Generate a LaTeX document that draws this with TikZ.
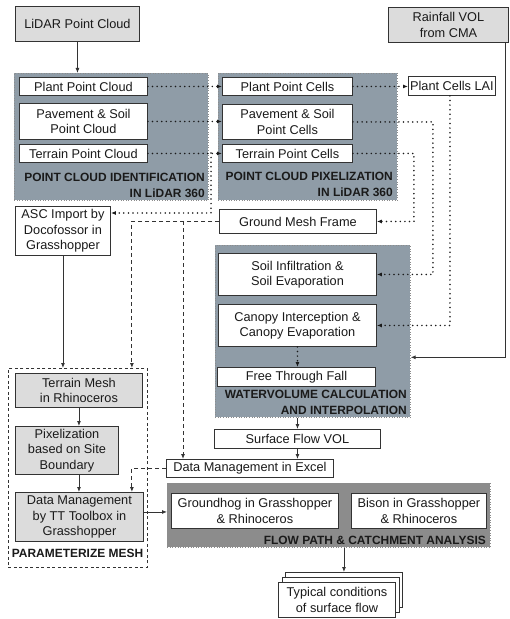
\documentclass[tikz,border=0pt]{standalone}
\usepackage{fontspec}
\setmainfont{Liberation Sans}
\usetikzlibrary{arrows.meta,calc}
\definecolor{slate}{HTML}{8F9CA7}
\definecolor{fpgray}{HTML}{8C8C8C}
\definecolor{lgray}{HTML}{DCDCDC}
\definecolor{edge}{HTML}{333333}
\definecolor{txt}{HTML}{1A1A1A}
\begin{document}
\begin{tikzpicture}[x=1bp,y=-1bp,
  font=\fontsize{12.8}{15.5}\selectfont,
  box/.style={draw=edge, line width=0.9bp, fill=white, inner sep=1bp, align=center, text=txt, anchor=north west},
  gbox/.style={box, fill=lgray},
  grp/.style={draw=black!45, dotted, line width=0.6bp, fill=slate, anchor=north west, inner sep=0},
  lbl/.style={font=\fontsize{12}{15}\selectfont\bfseries, text=txt, inner sep=0},
  tip/.style={-{Latex[length=5bp,width=4bp]}},
  arr/.style={draw=edge, line width=0.9bp, tip},
  dotl/.style={draw=txt, line width=1.7bp, line cap=round, dash pattern=on 0bp off 4.6bp, tip},
  dashl/.style={draw=edge, line width=0.9bp, dash pattern=on 4bp off 3bp, tip}
]
\path[use as bounding box, fill=white] (0,0) rectangle (510,619);

% groups
\node[grp, minimum width=194bp, minimum height=127bp] (g1) at (14,73) {};
\node[grp, minimum width=179bp, minimum height=127bp] (g2) at (218,73) {};
\node[grp, minimum width=195bp, minimum height=172bp] (g3) at (215,245) {};
\node[draw=edge, line width=0.9bp, dash pattern=on 3bp off 2.5bp, fill=white, anchor=north west, inner sep=0, minimum width=139bp, minimum height=199bp] (g4) at (8,368) {};
\node[grp, fill=fpgray, minimum width=323bp, minimum height=64bp] (g5) at (167,483) {};

% boxes
\node[gbox, minimum width=124bp, minimum height=35bp] (lidar) at (15,6) {LiDAR Point Cloud};
\node[gbox, minimum width=120bp, minimum height=35bp] (rain) at (388,7) {Rainfall VOL\\from CMA};

\node[box, minimum width=128bp, minimum height=18bp] (ppc) at (19,77) {Plant Point Cloud};
\node[box, minimum width=128bp, minimum height=36bp] (psc) at (19,103) {Pavement \& Soil\\Point Cloud};
\node[box, minimum width=128bp, minimum height=18bp] (tpc) at (19,144) {Terrain Point Cloud};

\node[box, minimum width=130bp, minimum height=18bp] (ppcell) at (222,77) {Plant Point Cells};
\node[box, minimum width=130bp, minimum height=35bp] (pscell) at (222,104) {Pavement \& Soil\\Point Cells};
\node[box, minimum width=130bp, minimum height=18bp] (tpcell) at (222,144) {Terrain Point Cells};

\node[box, inner sep=0.5bp, minimum width=87bp, minimum height=19bp] (lai) at (408,76) {Plant Cells LAI};

\node[box, minimum width=95bp, minimum height=49bp] (asc) at (15,206) {ASC Import by\\Docofossor in\\Grasshopper};
\node[box, minimum width=157bp, minimum height=24bp] (gmf) at (219,209) {Ground Mesh Frame};

\node[box, minimum width=158bp, minimum height=42bp] (soil) at (218,253) {Soil Infiltration \&\\Soil Evaporation};
\node[box, minimum width=158bp, minimum height=42bp] (canopy) at (218,304) {Canopy Interception \&\\Canopy Evaporation};
\node[box, minimum width=158bp, minimum height=19bp] (ftf) at (217,367) {Free Through Fall};

\node[box, minimum width=166bp, minimum height=19bp] (sfv) at (214,429) {Surface Flow VOL};
\node[box, minimum width=167bp, minimum height=18bp] (dme) at (166,459) {Data Management in Excel};

\node[gbox, minimum width=127bp, minimum height=34bp] (tm) at (15,373) {Terrain Mesh\\in Rhinoceros};
\node[gbox, minimum width=103bp, minimum height=48bp] (pix) at (15,426) {Pixelization\\based on Site\\Boundary};
\node[gbox, minimum width=128bp, minimum height=49bp] (dmtt) at (15,492) {Data Management\\by TT Toolbox in\\Grasshopper};

\node[box, minimum width=167bp, minimum height=35bp] (gh) at (171,493) {Groundhog in Grasshopper\\\& Rhinoceros};
\node[box, minimum width=135bp, minimum height=35bp] (bison) at (351,493) {Bison in Grasshopper\\\& Rhinoceros};

\node[box, minimum width=117bp, minimum height=35bp] (typ3) at (285,572) {};
\node[box, minimum width=117bp, minimum height=35bp] (typ2) at (281.5,577) {};
\node[box, minimum width=117bp, minimum height=35bp] (typ) at (278,582) {Typical conditions\\of surface flow};

% group labels
\node[lbl, anchor=base east] (g1la) at (205,181.5) {POINT CLOUD IDENTIFICATION};
\node[lbl, anchor=base east] (g1lb) at (205,197) {IN LiDAR 360};
\node[lbl, anchor=base east] (g2la) at (393,181) {POINT CLOUD PIXELIZATION};
\node[lbl, anchor=base east] (g2lb) at (393,196.5) {IN LiDAR 360};
\node[lbl, anchor=base east] (g3la) at (407,398.5) {WATERVOLUME CALCULATION};
\node[lbl, anchor=base east] (g3lb) at (407,414.5) {AND INTERPOLATION};
\node[lbl, anchor=base] (g4l) at (77.5,557.5) {PARAMETERIZE MESH};
\node[lbl, anchor=base east] (g5l) at (486,544.5) {FLOW PATH \& CATCHMENT ANALYSIS};

% helper coordinates
\coordinate (br1) at (211,153);
\coordinate (ascin) at ([yshift=-7bp]asc.north east);
\coordinate (rainin) at ([yshift=-26bp]g3.east);
\coordinate (g4in) at ([xshift=-16bp]g4.north east);
\coordinate (dmein) at ([xshift=17bp]dme.north west);
\coordinate (ttin) at ([xshift=-12bp]dmtt.north east);
\coordinate (a1) at ([yshift=5bp]dmtt.east);

% connectors
\draw[arr] (lidar.south) -- (lidar.south |- g1.north);
\draw[dotl] (ppc.east) -- (ppc.east -| ppcell.west);
\draw[dotl] (psc.east) -- (psc.east -| pscell.west);
\draw[dotl] (tpc.east) -- (tpc.east -| tpcell.west);
\draw[dotl] (br1) |- (ascin);
\draw[dotl] (ppcell.east) -- (ppcell.east -| lai.west);
\draw[dotl] (pscell.east) -- ++(80,0) |- (soil.east);
\draw[dotl] (tpcell.east) -- ++(61,0) |- (gmf.east);
\draw[dotl] ([xshift=-2bp]lai.south) |- (canopy.east);
\draw[dotl] (canopy.south) -- (canopy.south |- ftf.north);
\draw[arr] ([xshift=-3bp]rain.south east) |- (rainin);
\draw[dashl] (gmf.west) -| (g4in);
\draw[dashl] (dmein |- gmf.west) -- (dmein);
\draw[arr] (asc.south) -- (asc.south |- g4.north);
\draw[arr] (tm.south) -- (tm.south |- pix.north);
\draw[arr] (tm.south |- pix.south) -- (tm.south |- dmtt.north);
\draw[dashl] (dme.west) -| (ttin);
\draw[arr] (a1) -- (a1 -| g5.west);
\draw[arr] (g3.south -| sfv.north) -- (sfv.north);
\draw[arr] (sfv.south) -- (sfv.south |- dme.north);
\draw[arr] (g5.south -| typ3.north) -- (typ3.north);
\end{tikzpicture}
\end{document}
